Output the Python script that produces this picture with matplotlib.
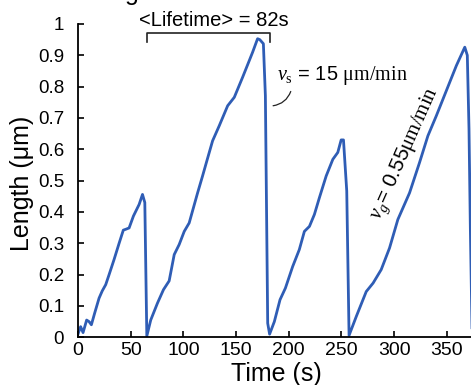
import matplotlib
matplotlib.use('Agg')
import matplotlib.pyplot as plt
from matplotlib.ticker import FuncFormatter

plt.rcParams.update({
    "font.family": ["Liberation Sans", "DejaVu Sans"],
    "mathtext.fontset": "custom",
    "mathtext.rm": "Liberation Serif",
    "mathtext.it": "Liberation Serif:italic",
    "mathtext.bf": "Liberation Serif:bold",
})

# microtubule length trace
time_s = [0, 2.5, 4.8, 8.2, 10.5, 12.7, 15.8, 20, 23, 26.3, 29.5, 34.2, 39, 43,
          45.5, 48.5, 52.6, 58, 61.2, 63.4, 65.3,
          69, 75.4, 81.1, 86.5, 91.3, 96, 100.8, 105.5, 113.4, 118.2, 122,
          127.7, 134, 142, 148.3, 156.2, 162.5, 165.7, 170.4, 172.5, 175.9,
          177.8, 180, 181.8,
          186.3, 191.7, 196.8, 203.7, 210, 214.8, 219.6, 224.3, 229, 235.5,
          241.8, 246.5, 249.7, 251.9, 255, 257.2,
          264, 273.5, 280, 287.7, 295.6, 303.5, 314.6, 324.1, 332, 340,
          349.5, 359, 367, 369.4, 371, 372.3, 374]
length_um = [0.01, 0.034, 0.015, 0.055, 0.05, 0.04, 0.077, 0.125, 0.148, 0.168,
             0.2, 0.248, 0.30, 0.342, 0.345, 0.349, 0.387, 0.424, 0.456, 0.43,
             0.004,
             0.055, 0.109, 0.152, 0.18, 0.264, 0.296, 0.338, 0.365, 0.46,
             0.515, 0.56, 0.627, 0.675, 0.739, 0.766, 0.83, 0.883, 0.91,
             0.953, 0.95, 0.937, 0.771, 0.045, 0.01,
             0.05, 0.12, 0.157, 0.226, 0.28, 0.338, 0.354, 0.392, 0.445,
             0.515, 0.568, 0.59, 0.63, 0.63, 0.467, 0.006,
             0.066, 0.146, 0.173, 0.216, 0.285, 0.376, 0.461, 0.558, 0.643,
             0.707, 0.787, 0.867, 0.926, 0.9, 0.665, 0.344, 0.0]

xticks = [0, 50, 100, 150, 200, 250, 300, 350]
yticks = [0, 0.1, 0.2, 0.3, 0.4, 0.5, 0.6, 0.7, 0.8, 0.9, 1.0]

fig = plt.figure(figsize=(4.71, 3.85), dpi=100)
ax = fig.add_axes([0.1656, 0.1239, 0.8344, 0.8138])

ax.plot(time_s, length_um, color='#2f5db5', lw=2.0)

ax.set_xlim(0, 372.9)
ax.set_ylim(0, 1)
ax.set_xticks(xticks)
ax.set_yticks(yticks)
ax.yaxis.set_major_formatter(FuncFormatter(lambda v, p: '%g' % v))
ax.spines['top'].set_visible(False)
ax.spines['right'].set_visible(False)
for s in ['left', 'bottom']:
    ax.spines[s].set_linewidth(1.3)
ax.tick_params(direction='in', length=4, width=1.2)
ax.tick_params(axis='y', pad=10, labelsize=13.5)
ax.tick_params(axis='x', pad=3.5, labelsize=14)

ax.set_xlabel('Time (s)', fontsize=18)
ax.set_ylabel('Length (μm)', fontsize=18)
ax.xaxis.set_label_coords(0.504, -0.078)
ax.yaxis.set_label_coords(-0.112, 0.49)

# lifetime bracket
ax.plot([65.5, 65.5, 182.2, 182.2], [0.943, 0.972, 0.972, 0.943],
        color='#222222', lw=1.2, clip_on=False)
ax.text(129, 0.995, '<Lifetime> = 82s', fontsize=14.5, ha='center',
        va='baseline', clip_on=False)

# shrinkage velocity
ax.text(188.8, 0.837, r'$v_{\mathrm{s}}$ = 15 $\mathrm{\mu m/min}$',
        fontsize=14.5, ha='left', va='center')
ax.annotate('', xy=(182.5, 0.738), xytext=(202.7, 0.793),
            arrowprops=dict(arrowstyle='-', color='#222222', lw=0.9,
                            connectionstyle='arc3,rad=-0.35'))

# growth velocity
ax.text(311, 0.584, r'$v_g$= 0.55$\mathrm{\mu m/min}$', fontsize=15,
        rotation=66, ha='center', va='center', rotation_mode='anchor')

# bit of the panel heading that is cut off above
fig.text(132 / 471, 1.0, 'g', fontsize=18, ha='center', va='baseline')

fig.savefig('out.png', dpi=100)
